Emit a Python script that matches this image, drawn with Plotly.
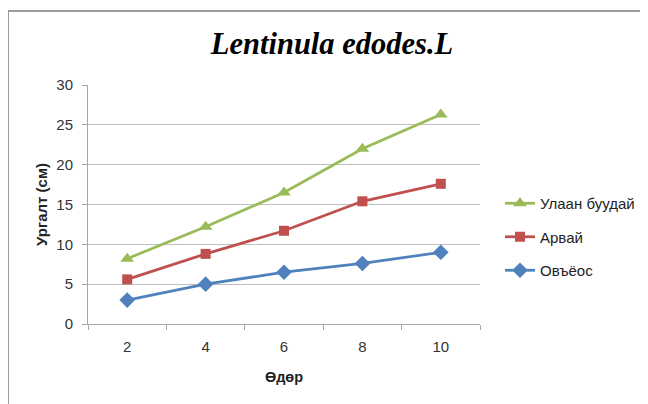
import plotly.graph_objects as go

days = [2, 4, 6, 8, 10]
wheat = [8.2, 12.2, 16.5, 22.0, 26.3]     # Улаан буудай
barley = [5.6, 8.8, 11.7, 15.4, 17.6]     # Арвай
oats = [3.0, 5.0, 6.5, 7.6, 9.0]          # Овъёос
series_names = ["Улаан буудай", "Арвай", "Овъёос"]
y_ticks = [0, 5, 10, 15, 20, 25, 30]

OFF = 8  # page body margin
L, T = 88 - OFF, 85 - OFF
W, H = 648, 404
R = W - (480 - OFF)
B = H - (324 - OFF)
pw, ph = W - L - R, H - T - B

fig = go.Figure()
specs = [
    (wheat, series_names[0], "#9BBB59", "triangle-up", 12),
    (barley, series_names[1], "#C0504D", "square", 10),
    (oats, series_names[2], "#4F81BD", "diamond", 12),
]
for vals, name, col, sym, sz in specs:
    fig.add_trace(go.Scatter(
        x=days, y=vals, name=name, mode="lines+markers",
        line=dict(color=col, width=2.75),
        marker=dict(symbol=sym, size=sz, color=col),
        legendgroup=name,
    ))

font_family = "Liberation Sans, Arial, sans-serif"
fig.update_layout(
    width=W, height=H,
    margin=dict(l=L, r=R, t=T, b=B, autoexpand=False),
    paper_bgcolor="white", plot_bgcolor="white",
    title=dict(text="<b><i>Lentinula edodes.L</i></b>", x=(332 - OFF) / W, xanchor="center",
               y=1 - (43 - OFF) / H, yanchor="middle",
               font=dict(family="Liberation Serif, Times New Roman, serif", size=30.5, color="black")),
    showlegend=True,
    legend=dict(x=(500 - OFF - L) / pw, y=(324 - 187) / ph, xanchor="left", yanchor="top",
                traceorder="grouped", tracegroupgap=11,
                font=dict(family=font_family, size=15, color="#222"),
                bgcolor="rgba(0,0,0,0)"),
    xaxis=dict(range=[1, 11], tickvals=days, ticktext=[str(d) for d in days],
               showgrid=False, zeroline=False, ticks="", automargin=False,
               showline=True, linecolor="#a6a6a6", linewidth=1,
               ticklabelstandoff=9,
               tickfont=dict(family=font_family, size=15, color="#333"),
               minor=dict(tickvals=[1, 3, 5, 7, 9, 11], ticks="outside", ticklen=5,
                          tickcolor="#a6a6a6", showgrid=False),
               title=dict(text="<b>Өдөр</b>", standoff=17,
                          font=dict(family=font_family, size=14.5, color="#222"))),
    yaxis=dict(range=[0, 30], tickvals=y_ticks, showgrid=True, gridcolor="#bfbfbf",
               gridwidth=1, zeroline=False, showline=True, linecolor="#a6a6a6",
               ticks="outside", ticklen=5, tickcolor="#a6a6a6", automargin=False,
               ticklabelstandoff=6,
               tickfont=dict(family=font_family, size=15, color="#333"),
               title=dict(text="<b>Ургалт (см)</b>", standoff=5,
                          font=dict(family=font_family, size=15, color="#222"))),
    shapes=[dict(type="rect", xref="paper", yref="paper",
                 x0=(8 - OFF - L) / pw, x1=(643 - OFF - L) / pw,
                 y0=-0.5, y1=(324 - 11) / ph,
                 line=dict(color="#7f7f7f", width=1.5), fillcolor="rgba(0,0,0,0)",
                 layer="below")],
)

fig.write_html("out.html")
